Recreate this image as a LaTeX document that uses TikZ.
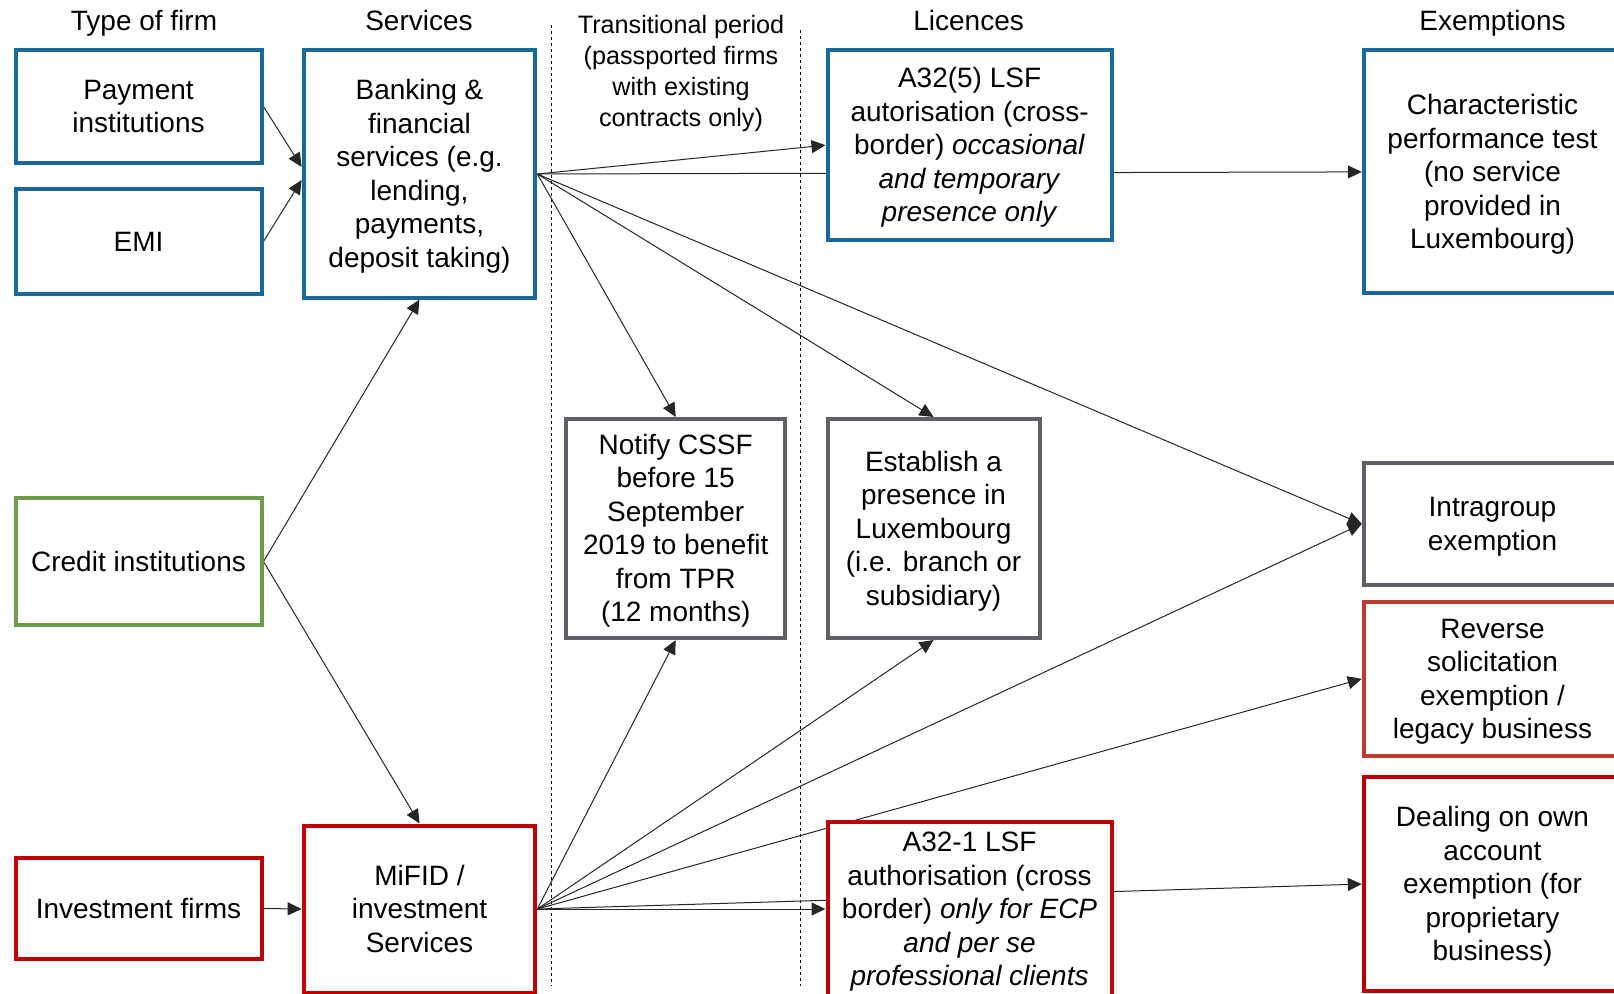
\documentclass[tikz,border=0pt]{standalone}
\usepackage{fontspec}
\setmainfont{Liberation Sans}
\usetikzlibrary{positioning,arrows.meta,backgrounds}
\definecolor{firmBlue}{HTML}{18689B}
\definecolor{creditGreen}{HTML}{6E9B4E}
\definecolor{mifidRed}{HTML}{C00000}
\definecolor{legacyRed}{HTML}{BF3A2F}
\definecolor{routeGray}{HTML}{606166}
\definecolor{linkInk}{HTML}{262626}
\newcommand{\bS}{\rule[-2.97pt]{0pt}{15.64pt}}
\newcommand{\tS}{\rule[-2.67pt]{0pt}{14.07pt}}

\begin{document}
\begin{tikzpicture}[x=0.5pt, y=-0.5pt, >={Triangle[length=7pt,width=6.5pt]}, node distance=11.15pt and 19.05pt,
          box/.style={draw, fill=white, line width=2pt, align=center, inner sep=2pt, font=\fontsize{14}{16.75}\selectfont},
          blueBox/.style={box, draw=firmBlue, minimum width=#1},
          greenBox/.style={box, draw=creditGreen, minimum width=123pt},
          redBox/.style={box, draw=mifidRed, minimum width=#1},
          rustBox/.style={box, draw=legacyRed, minimum width=128.7pt},
          grayBox/.style={box, draw=routeGray, minimum width=#1},
          head/.style={align=center, inner sep=0pt, font=\fontsize{14}{16.75}\selectfont},
          link/.style={->, line width=0.5pt, draw=linkInk},
          period/.style={line width=0.5pt, dash pattern=on 1.5pt off 1.5pt}]
        \useasboundingbox (0,0) rectangle (1614,993);
        \node[head] (hfirm) at (144,20.6) {\bS Type of firm\bS};
        \node[head] (hserv) at (419,20.6) {\bS Services\bS};
        \node[head, font=\fontsize{12.6}{15.45}\selectfont] (htrans) at (681,71) {\tS Transitional period\\(passported firms\\with existing\\contracts only)\tS};
        \node[head] (hlic) at (968.6,20.6) {\bS Licences\bS};
        \node[head] (hexempt) at (1492.5,20.6) {\bS Exemptions\bS};
        \node[blueBox=123pt, minimum height=56.15pt] (payinst) at (138.5,106.5) {\bS Payment\\institutions\bS};
        \node[blueBox=123pt, minimum height=52.5pt, below=of payinst] (emi) {\bS EMI\bS};
        \node[greenBox, minimum height=63.5pt] (credinst) at (138.5,561.5) {\bS Credit institutions\bS};
        \node[redBox=123pt, minimum height=50.5pt] (invfirm) at (138.5,908.5) {\bS Investment firms\bS};
        \node[blueBox=115.85pt, minimum height=123.55pt] (banking) at (419.5,174) {\bS Banking \&\\financial\\services (e.g.\\lending,\\payments,\\deposit taking)\bS};
        \node[redBox=115.85pt, minimum height=83.5pt] (mifid) at (419.5,909) {\bS MiFID /\\investment\\Services\bS};
        \node[grayBox=109.7pt, minimum height=109.5pt] (notify) at (675.7,528.5) {\bS Notify CSSF\\before 15\\September\\2019 to benefit\\from TPR\\(12 months)\bS};
        \node[grayBox=106.05pt, minimum height=109.5pt, right=of notify] (establish) {\bS Establish a\\presence in\\Luxembourg\\(i.e. branch or\\subsidiary)\bS};
        \node[blueBox=142.1pt, minimum height=94.8pt] (a325) at (969.6,145.2) {\bS A32(5) LSF\\autorisation (cross-\\border) \textit{occasional}\\\textit{and temporary}\\\textit{presence only}\bS};
        \node[redBox=142.1pt, minimum height=83.5pt] (a321) at (969.6,909) {\bS A32-1 LSF\\authorisation (cross\\border) \textit{only for ECP}\\\textit{and per se}\\\textit{professional clients}\bS};
        \node[blueBox=128.7pt, minimum height=121.5pt] (chartest) at (1492.5,171.9) {\bS Characteristic\\performance test\\(no service\\provided in\\Luxembourg)\bS};
        \node[grayBox=128.7pt, minimum height=60.85pt] (intragroup) at (1492.5,523.9) {\bS Intragroup\\exemption\bS};
        \node[rustBox, minimum height=76.8pt, below=6.65pt of intragroup] (reverse) {\bS Reverse\\solicitation\\exemption /\\legacy business\bS};
        \node[redBox=128.7pt, minimum height=107pt, below=8.7pt of reverse] (dealing) {\bS Dealing on own\\account\\exemption (for\\proprietary\\business)\bS};
        \begin{scope}[on background layer]
          \draw[period] (551,25) -- (551,986);
          \draw[period] (800,30) -- (800,986);
          \draw[link] (payinst.east) -- ([yshift=3.5pt]banking.west);
          \draw[link] (emi.east) -- ([yshift=-3pt]banking.west);
          \draw[link] (credinst.east) -- (banking.south);
          \draw[link] (credinst.east) -- (mifid.north);
          \draw[link] (invfirm.east) -- (mifid.west);
          \draw[link] (banking.east) -- (a325.west);
          \draw[link] (banking.east) -- (chartest.west);
          \draw[link] (banking.east) -- (notify.north);
          \draw[link] (banking.east) -- (establish.north);
          \draw[link] (banking.east) -- (intragroup.west);
          \draw[link] (mifid.east) -- (notify.south);
          \draw[link] (mifid.east) -- (establish.south);
          \draw[link] (mifid.east) -- (intragroup.west);
          \draw[link] (mifid.east) -- (reverse.west);
          \draw[link] (mifid.east) -- (a321.west);
          \draw[link] (mifid.east) -- (dealing.west);
        \end{scope}
      \end{tikzpicture}
\end{document}
